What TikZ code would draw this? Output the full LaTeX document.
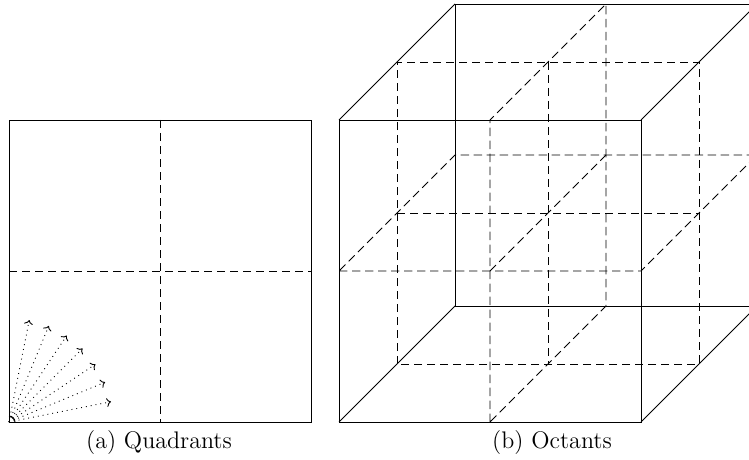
\documentclass[tikz,border=0pt]{standalone}
\usetikzlibrary{arrows.meta}
\begin{document}
\begin{tikzpicture}[x=0.5pt,y=-0.5pt,
  edge/.style={line width=0.45pt},
  dsh/.style={line width=0.45pt,dash pattern=on 4.2pt off 2.3pt},
  ray/.style={line width=0.45pt,dotted,-{To[length=2.2pt,width=4.4pt]}},
  captxt/.style={font=\fontsize{12}{14}\selectfont,anchor=base,inner sep=0pt}]
\useasboundingbox (0,0) rectangle (749,460);
\clip (0,0) rectangle (749,460);
% ---------- (a) quadrants ----------
\coordinate (qa) at (9,422);
\coordinate (qc) at (311,120);
\coordinate (qtop) at (160,120);
\coordinate (qbot) at (160,422);
\coordinate (qleft) at (9,271);
\coordinate (qright) at (311,271);
\draw[edge] (qa) rectangle (qc);
\draw[dsh] (qtop) -- (qbot);
\draw[dsh] (qleft) -- (qright);
\foreach \k in {1,...,7}{
  \draw[ray] (qa) -- ++(-\k*11.25:104);
}
\draw[edge] (qa) ++(6,0) arc[start angle=0,end angle=-90,radius=6];
% ---------- (b) octants ----------
\coordinate (F1) at (339,422);
\coordinate (F2) at (641,422);
\coordinate (F3) at (641,120);
\coordinate (F4) at (339,120);
\coordinate (B1) at (455,306);
\coordinate (B2) at (757,306);
\coordinate (B3) at (757,4);
\coordinate (B4) at (455,4);
\draw[edge] (F1) rectangle (F3);
\draw[edge] (B1) rectangle (B3);
\draw[edge] (F1) -- (B1);
\draw[edge] (F2) -- (B2);
\draw[edge] (F3) -- (B3);
\draw[edge] (F4) -- (B4);
% middle depth plane
\coordinate (M1) at (397,364);
\coordinate (M3) at (699,62);
\draw[dsh] (M1) rectangle (M3);
% middle left-right plane
\coordinate (X1) at (490,422);
\coordinate (X2) at (490,120);
\coordinate (X3) at (606,4);
\coordinate (X4) at (606,306);
\draw[dsh] (X1) -- (X2) -- (X3) -- (X4) -- cycle;
% middle top-bottom plane
\coordinate (Y1) at (339,271);
\coordinate (Y2) at (641,271);
\coordinate (Y3) at (757,155);
\coordinate (Y4) at (455,155);
\draw[dsh] (Y1) -- (Y2) -- (Y3) -- (Y4) -- cycle;
% intersections of the planes
\coordinate (I1) at (548,62);
\coordinate (I2) at (548,364);
\coordinate (I3) at (397,213);
\coordinate (I4) at (699,213);
\coordinate (I5) at (490,271);
\coordinate (I6) at (606,155);
\draw[dsh] (I1) -- (I2);
\draw[dsh] (I3) -- (I4);
\draw[dsh] (I5) -- (I6);
% captions
\node[captxt] (capa) at (159,448) {(a) Quadrants};
\node[captxt] (capb) at (552,448) {(b) Octants};
\end{tikzpicture}
\end{document}
